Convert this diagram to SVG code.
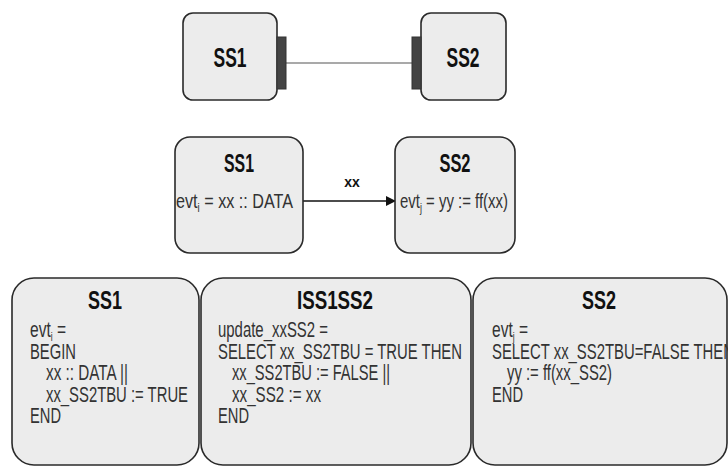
<svg xmlns="http://www.w3.org/2000/svg" width="728" height="467" viewBox="0 0 728 467">
<style>
.box{fill:#ececec;stroke:#2a2a2a;stroke-width:1.6}
.tab{fill:#444;stroke:#333;stroke-width:1}
.t{font-family:"Liberation Sans",Arial,sans-serif;font-weight:bold;fill:#111;text-anchor:middle}
.b{font-family:"Liberation Sans",Arial,sans-serif;font-size:22px;fill:#333}
.m{font-family:"Liberation Sans",Arial,sans-serif;font-size:20px;fill:#333}
.s{font-size:12px}
</style>
<defs>
<marker id="arr" markerWidth="10" markerHeight="10" refX="9" refY="5" orient="auto" markerUnits="userSpaceOnUse">
<path d="M0,0 L10,5 L0,10 Z" fill="#111"/>
</marker>
</defs>
<rect width="728" height="467" fill="#fff"/>

<g id="connectors">
<line x1="286" y1="63" x2="412" y2="63" stroke="#555" stroke-width="1.2"/>
<line x1="303" y1="201" x2="395" y2="201" stroke="#111" stroke-width="1.6" marker-end="url(#arr)"/>
<text class="t" x="352" y="187" font-size="14">xx</text>
</g>

<g id="top-ss1">
<rect class="box" x="183" y="13" width="94" height="87" rx="10"/>
<rect class="tab" x="277" y="37" width="9" height="52"/>
<text class="t" x="230" y="67" font-size="27" textLength="33" lengthAdjust="spacingAndGlyphs">SS1</text>
</g>
<g id="top-ss2">
<rect class="box" x="421" y="13" width="85" height="87" rx="10"/>
<rect class="tab" x="412" y="37" width="9" height="52"/>
<text class="t" x="463" y="67" font-size="27" textLength="33" lengthAdjust="spacingAndGlyphs">SS2</text>
</g>

<g id="mid-ss1">
<rect class="box" x="175" y="137" width="128" height="116" rx="15"/>
<text class="t" x="239" y="172" font-size="25" textLength="30" lengthAdjust="spacingAndGlyphs">SS1</text>
<text class="m" x="176" y="208" textLength="117" lengthAdjust="spacingAndGlyphs">evt<tspan class="s" dy="4">i</tspan><tspan dy="-4"> = xx :: DATA</tspan></text>
</g>
<g id="mid-ss2">
<rect class="box" x="395" y="137" width="120" height="116" rx="15"/>
<text class="t" x="455" y="172" font-size="25" textLength="31" lengthAdjust="spacingAndGlyphs">SS2</text>
<text class="m" x="400" y="208" textLength="108" lengthAdjust="spacingAndGlyphs">evt<tspan class="s" dy="4">j</tspan><tspan dy="-4"> = yy := ff(xx)</tspan></text>
</g>

<g id="bot-ss1">
<rect class="box" x="12" y="278" width="187" height="187" rx="22"/>
<text class="t" x="105" y="309" font-size="26" textLength="34" lengthAdjust="spacingAndGlyphs">SS1</text>
<text class="b" x="30" y="337" textLength="36" lengthAdjust="spacingAndGlyphs">evt<tspan class="s" dy="4">i</tspan><tspan dy="-4"> =</tspan></text>
<text class="b" x="30" y="358.5" textLength="46" lengthAdjust="spacingAndGlyphs">BEGIN</text>
<text class="b" x="46" y="380" textLength="82" lengthAdjust="spacingAndGlyphs">xx :: DATA ||</text>
<text class="b" x="46" y="401.5" textLength="142" lengthAdjust="spacingAndGlyphs">xx_SS2TBU := TRUE</text>
<text class="b" x="30" y="423" textLength="31" lengthAdjust="spacingAndGlyphs">END</text>
</g>

<g id="bot-iss1ss2">
<rect class="box" x="201" y="278" width="270" height="187" rx="22"/>
<text class="t" x="335" y="309" font-size="26" textLength="76" lengthAdjust="spacingAndGlyphs">ISS1SS2</text>
<text class="b" x="218" y="337" textLength="110" lengthAdjust="spacingAndGlyphs">update_xxSS2 =</text>
<text class="b" x="218" y="358.5" textLength="244" lengthAdjust="spacingAndGlyphs">SELECT xx_SS2TBU = TRUE THEN</text>
<text class="b" x="232" y="380" textLength="158" lengthAdjust="spacingAndGlyphs">xx_SS2TBU := FALSE ||</text>
<text class="b" x="232" y="401.5" textLength="89" lengthAdjust="spacingAndGlyphs">xx_SS2 := xx</text>
<text class="b" x="218" y="423" textLength="31" lengthAdjust="spacingAndGlyphs">END</text>
</g>

<g id="bot-ss2">
<rect class="box" x="473" y="278" width="254" height="187" rx="22"/>
<text class="t" x="599" y="309" font-size="26" textLength="34" lengthAdjust="spacingAndGlyphs">SS2</text>
<text class="b" x="492" y="337" textLength="36" lengthAdjust="spacingAndGlyphs">evt<tspan class="s" dy="4">j</tspan><tspan dy="-4"> =</tspan></text>
<text class="b" x="492" y="358.5" textLength="242" lengthAdjust="spacingAndGlyphs">SELECT xx_SS2TBU=FALSE THEN</text>
<text class="b" x="507" y="380" textLength="105" lengthAdjust="spacingAndGlyphs">yy := ff(xx_SS2)</text>
<text class="b" x="492" y="401.5" textLength="31" lengthAdjust="spacingAndGlyphs">END</text>
</g>
</svg>
